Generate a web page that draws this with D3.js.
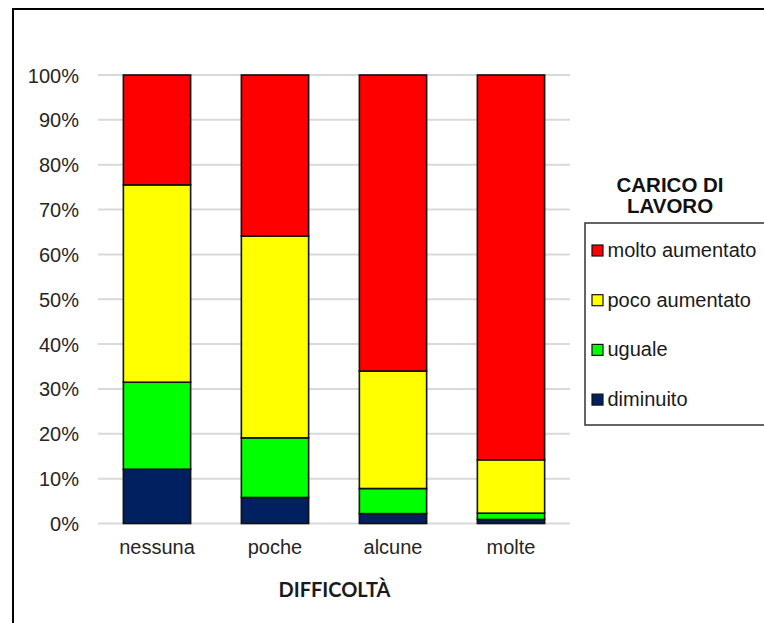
<!DOCTYPE html>
<html>
<head>
<meta charset="utf-8">
<script src="https://cdn.jsdelivr.net/npm/d3@7"></script>
<style>
html,body{margin:0;padding:0;background:#fff;overflow:hidden;}
svg{display:block;}
</style>
</head>
<body>
<svg id="chart" width="764" height="623"></svg>
<script>
const categories = ["nessuna", "poche", "alcune", "molte"];
const seriesNames = ["diminuito", "uguale", "poco aumentato", "molto aumentato"];
const diminuito = [12.1, 5.8, 2.2, 0.9];
const uguale = [19.4, 13.3, 5.6, 1.4];
const pocoAumentato = [44.0, 45.0, 26.2, 11.9];
const moltoAumentato = [24.5, 35.9, 66.0, 85.8];
const colors = ["#002060", "#00ff00", "#ffff00", "#ff0000"];
const tickValues = [0, 10, 20, 30, 40, 50, 60, 70, 80, 90, 100];
const xTitle = "DIFFICOLTÀ";
const legendTitle = ["CARICO DI", "LAVORO"];

const svg = d3.select("#chart");
const font = "'Liberation Sans', Arial, sans-serif";
const fs = 20;

// outer border (cropped on right/bottom)
svg.append("rect").attr("x", 13).attr("y", 9).attr("width", 900).attr("height", 800)
  .attr("fill", "none").attr("stroke", "#000").attr("stroke-width", 2);

const plot = {left: 98, right: 570, top: 75, bottom: 523.5};
const x = d3.scaleBand().domain(categories).range([plot.left, plot.right]).paddingInner(0.43).paddingOuter(0.215);
const y = d3.scaleLinear().domain([0, 100]).range([plot.bottom, plot.top]);

// gridlines
svg.append("g").selectAll("line").data(tickValues).join("line")
  .attr("x1", plot.left).attr("x2", plot.right)
  .attr("y1", d => y(d)).attr("y2", d => y(d))
  .attr("stroke", "#d9d9d9").attr("stroke-width", 2);

// y axis labels
const yAxis = d3.axisLeft(y).tickValues(tickValues).tickFormat(d => d + "%").tickSize(0).tickPadding(0);
const yg = svg.append("g").attr("transform", `translate(79,0)`).call(yAxis);
yg.select(".domain").remove();
yg.selectAll("text").attr("font-family", font).attr("font-size", fs).attr("fill", "#262626").attr("dy", "0.35em");

// stack
const rows = categories.map((c, i) => ({
  cat: c,
  "diminuito": diminuito[i],
  "uguale": uguale[i],
  "poco aumentato": pocoAumentato[i],
  "molto aumentato": moltoAumentato[i]
}));
const stacked = d3.stack().keys(seriesNames)(rows);

svg.append("g").selectAll("g").data(stacked).join("g")
  .attr("fill", (d, i) => colors[i])
  .selectAll("rect").data(d => d).join("rect")
  .attr("x", d => x(d.data.cat))
  .attr("width", x.bandwidth())
  .attr("y", d => y(d[1]))
  .attr("height", d => y(d[0]) - y(d[1]))
  .attr("stroke", "#111").attr("stroke-width", 1.6);

// x axis labels
const xAxis = d3.axisBottom(x).tickSize(0).tickPadding(0);
const xg = svg.append("g").attr("transform", `translate(0,540)`).call(xAxis);
xg.select(".domain").remove();
xg.selectAll("text").attr("font-family", font).attr("font-size", fs).attr("fill", "#262626").attr("dy", "0.71em");

// x title
svg.append("text").attr("x", 334.5).attr("y", 597).attr("text-anchor", "middle")
  .attr("font-family", "Lato, 'Open Sans', sans-serif").attr("font-weight", "bold").attr("font-size", 20)
  .attr("fill", "#1a1a1a").text(xTitle);

// legend title
svg.append("g").selectAll("text").data(legendTitle).join("text")
  .attr("x", 670).attr("y", (d, i) => 192 + i * 21).attr("text-anchor", "middle")
  .attr("font-family", font).attr("font-weight", "bold").attr("font-size", 20.5).attr("fill", "#111")
  .text(d => d);

// legend box
svg.append("rect").attr("x", 585).attr("y", 223).attr("width", 300).attr("height", 202)
  .attr("fill", "#fff").attr("stroke", "#333").attr("stroke-width", 1.5);

const legendOrder = [3, 2, 1, 0];
const lg = svg.append("g").selectAll("g").data(legendOrder).join("g")
  .attr("transform", (d, i) => `translate(592, ${250 + i * 49.7})`);
lg.append("rect").attr("x", 0).attr("y", -5).attr("width", 11).attr("height", 11)
  .attr("fill", d => colors[d]).attr("stroke", "#111").attr("stroke-width", 1.2);
lg.append("text").attr("x", 15.5).attr("y", 0).attr("dy", "0.35em")
  .attr("font-family", font).attr("font-size", fs).attr("fill", "#1a1a1a")
  .text(d => seriesNames[d]);
</script>
</body>
</html>
